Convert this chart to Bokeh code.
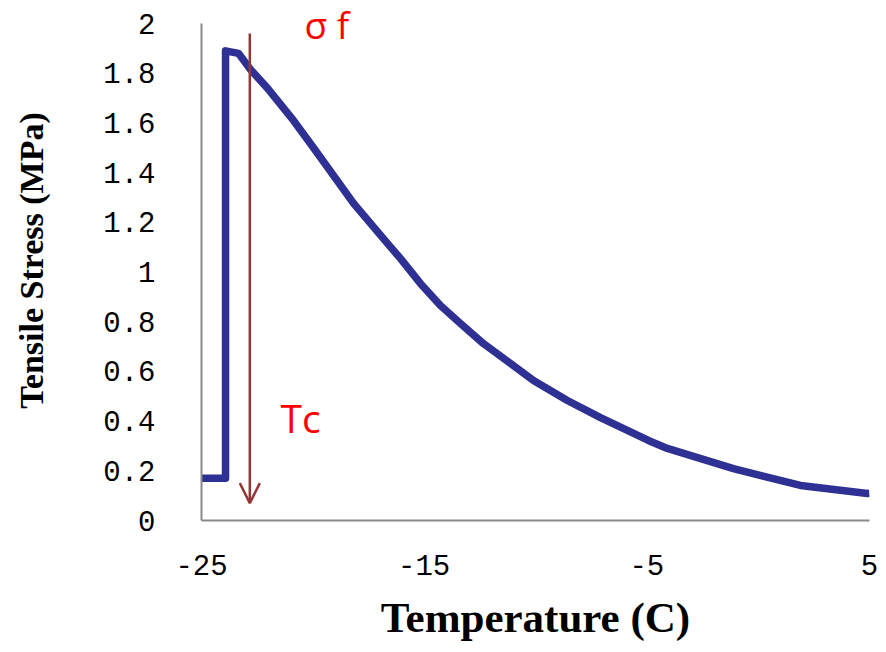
from bokeh.plotting import figure
from bokeh.models import Range1d, FixedTicker, Arrow, OpenHead, Label
from bokeh.embed import file_html
from bokeh.resources import INLINE

# Data
temperature = [-25.0, -23.92, -23.92, -23.34, -22.80, -22.04, -20.87, -19.97, -18.17,
               -16.65, -16.06, -15.17, -14.27, -13.37, -12.34, -11.12, -10.09, -8.57,
               -7.08, -4.93, -4.08, -1.11, 1.90, 4.91, 5.0]
stress = [0.17, 0.17, 1.89, 1.88, 1.815, 1.74, 1.61, 1.50, 1.276,
          1.115, 1.054, 0.954, 0.865, 0.793, 0.712, 0.632, 0.563, 0.483,
          0.414, 0.322, 0.29, 0.209, 0.141, 0.109, 0.11]

x_ticks = [-25, -15, -5, 5]
x_tick_labels = ["-25", "-15", "-5", "5"]
y_ticks = [0.0, 0.2, 0.4, 0.6, 0.8, 1.0, 1.2, 1.4, 1.6, 1.8, 2.0]
y_tick_labels = ["0", "0.2", "0.4", "0.6", "0.8", "1", "1.2", "1.4", "1.6", "1.8", "2"]

tc_temperature = -22.83
arrow_top = 1.96
arrow_bottom = 0.07

# frame extends above 2 so that the "σ f" note is not clipped;
# the axis line itself is bounded to 0..2
p = figure(frame_width=668, frame_height=520,
           x_range=Range1d(-25, 5), y_range=Range1d(0, 2.0926),
           output_backend="svg", toolbar_location=None,
           min_border_left=201, min_border_right=17,
           min_border_top=0, min_border_bottom=132)
p.outline_line_color = None
p.xgrid.visible = False
p.ygrid.visible = False
p.background_fill_color = "white"
p.border_fill_color = "white"

p.line(temperature, stress, line_color="#2E3094", line_width=7.5, line_join="round")

p.add_layout(Arrow(end=OpenHead(size=20, line_color="#953735", line_width=2.5),
                   x_start=tc_temperature, y_start=arrow_top,
                   x_end=tc_temperature, y_end=arrow_bottom,
                   line_color="#953735", line_width=2.5))

p.add_layout(Label(x=-20.37, y=1.996, text="σ f", text_color="red",
                   text_font="Open Sans", text_font_size="37px",
                   text_baseline="alphabetic"))
p.add_layout(Label(x=-21.45, y=0.414, text="Tc", text_color="red",
                   text_font="Open Sans", text_font_size="39px",
                   text_baseline="alphabetic"))

for ax in (p.xaxis[0], p.yaxis[0]):
    ax.axis_line_color = "#898989"
    ax.axis_line_width = 2
    ax.major_tick_line_color = None
    ax.minor_tick_line_color = None
    ax.major_tick_out = 0
    ax.major_tick_in = 0
    ax.minor_tick_out = 0
    ax.minor_tick_in = 0
    ax.major_label_text_font = "Liberation Mono"
    ax.major_label_text_font_size = "29px"
    ax.major_label_text_color = "black"
    ax.axis_label_text_font = "Liberation Serif"
    ax.axis_label_text_font_style = "bold"
    ax.axis_label_text_color = "black"

p.xaxis.ticker = FixedTicker(ticks=x_ticks)
p.xaxis.major_label_overrides = dict(zip(x_ticks, x_tick_labels))
p.yaxis.ticker = FixedTicker(ticks=y_ticks)
p.yaxis.major_label_overrides = dict(zip(y_ticks, y_tick_labels))
p.yaxis.bounds = (0, 2)

p.xaxis.axis_label = "Temperature (C)"
p.xaxis.axis_label_text_font_size = "43px"
p.xaxis.major_label_standoff = 34
p.xaxis.axis_label_standoff = 16

p.yaxis.axis_label = "Tensile Stress (MPa)"
p.yaxis.axis_label_text_font_size = "34px"
p.yaxis.major_label_standoff = 46
p.yaxis.axis_label_standoff = 50

open("out.html", "w").write(file_html(p, INLINE))
